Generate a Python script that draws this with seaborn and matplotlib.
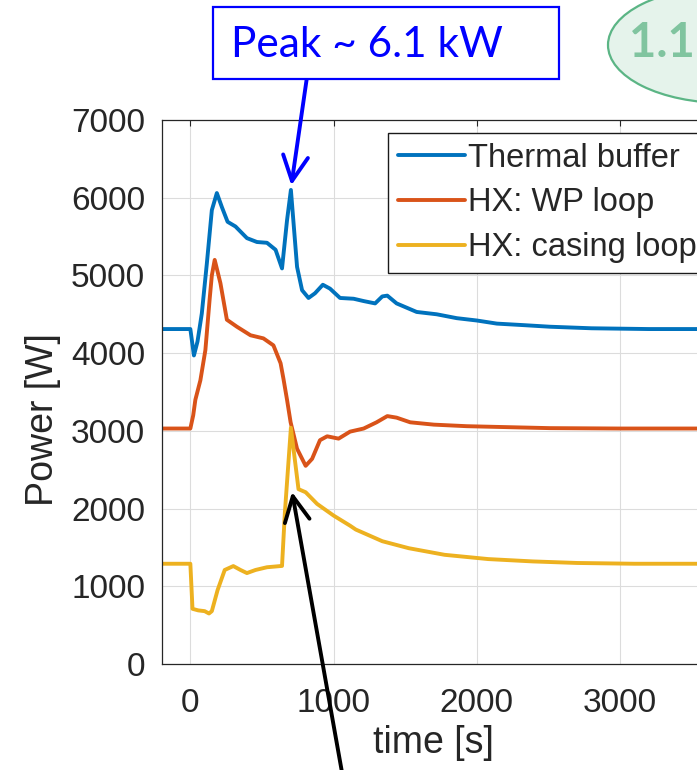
import numpy as np
import pandas as pd
import matplotlib
matplotlib.use("Agg")
import matplotlib.pyplot as plt
import seaborn as sns
from matplotlib.patches import Rectangle, Ellipse

# Power traces during the transient [time in s, power in W]
t_buffer = [-200, 0, 25, 50, 80, 115, 150, 185, 220, 260, 315, 395, 465, 535, 595, 640,
            675, 702, 745, 780, 825, 870, 925, 975, 1045, 1140, 1210, 1290, 1340, 1375,
            1440, 1580, 1720, 1860, 2000, 2140, 2330, 2510, 2800, 3200, 3600]
p_buffer = [4310, 4310, 3970, 4150, 4510, 5150, 5840, 6060, 5880, 5690, 5630, 5480, 5430, 5420, 5330, 5090,
            5710, 6100, 5110, 4810, 4710, 4770, 4880, 4830, 4710, 4700, 4670, 4640, 4730, 4740,
            4640, 4530, 4500, 4450, 4420, 4380, 4360, 4340, 4320, 4310, 4310]

t_wp = [-200, 0, 20, 35, 70, 105, 135, 150, 170, 190, 210, 255, 325, 420, 510, 580, 630, 650,
        675, 700, 745, 805, 850, 905, 955, 1035, 1115, 1210, 1300, 1375, 1440, 1535, 1700,
        1930, 2160, 2510, 3000, 3600]
p_wp = [3030, 3030, 3200, 3400, 3650, 4040, 4700, 5000, 5200, 5050, 4900, 4430, 4340, 4230, 4190, 4100, 3870, 3670,
        3400, 3110, 2770, 2550, 2640, 2880, 2930, 2900, 2990, 3030, 3110, 3190, 3170, 3110, 3080,
        3060, 3050, 3035, 3030, 3030]

t_casing = [-200, 0, 15, 55, 100, 130, 150, 190, 240, 300, 350, 395, 455, 535, 640, 660, 702,
            755, 805, 885, 1000, 1115, 1155, 1340, 1525, 1775, 2080, 2390, 2700, 3100, 3600]
p_casing = [1290, 1290, 710, 690, 680, 650, 680, 950, 1210, 1260, 1210, 1170, 1210, 1245, 1262, 1950, 3040,
            2250, 2210, 2060, 1910, 1780, 1730, 1580, 1490, 1405, 1350, 1320, 1300, 1290, 1290]

series_names = ["Thermal buffer", "HX: WP loop", "HX: casing loop"]
series_colors = ["#0072BD", "#D95319", "#EDB120"]

x_ticks = [0, 1000, 2000, 3000]
y_ticks = [0, 1000, 2000, 3000, 4000, 5000, 6000, 7000]

peak_label = "Peak ~ 6.1 kW"
badge_label = "1.1 kW"

df = pd.concat([
    pd.DataFrame({"time": t_buffer, "power": p_buffer, "series": series_names[0]}),
    pd.DataFrame({"time": t_wp, "power": p_wp, "series": series_names[1]}),
    pd.DataFrame({"time": t_casing, "power": p_casing, "series": series_names[2]}),
], ignore_index=True)

sns.set_style("white")
plt.rcParams["font.family"] = ["Liberation Sans", "DejaVu Sans"]

W, H = 697, 770
fig = plt.figure(figsize=(W / 100, H / 100), dpi=100)
ax = fig.add_axes([161.7 / W, 1 - 664 / H, (706 - 161.7) / W, (664 - 120) / H])

sns.lineplot(data=df, x="time", y="power", hue="series", hue_order=series_names,
             palette=series_colors, estimator=None, sort=False, linewidth=2.8, ax=ax)

ax.set_xlim(-200, 3600)
ax.set_ylim(0, 7000)
ax.set_xticks(x_ticks)
ax.set_yticks(y_ticks)
ax.grid(True, color="#dcdcdc", linewidth=0.8)
for s in ax.spines.values():
    s.set_color("#262626")
    s.set_linewidth(0.9)
ax.tick_params(direction="in", length=4, width=0.8, colors="#262626",
               top=True, right=True, labelsize=24, labelcolor="#262626")
ax.tick_params(axis="x", pad=17)
ax.tick_params(axis="y", pad=12)
ax.set_xlabel("time [s]", fontsize=27, color="#262626")
ax.set_ylabel("Power [W]", fontsize=27, color="#262626")
ax.xaxis.set_label_coords(0.5, -0.112)
ax.yaxis.set_label_coords(-0.185, 0.45)

leg = ax.legend(loc="upper left", bbox_to_anchor=(388 / W, 1 - 133 / H),
                bbox_transform=fig.transFigure, borderaxespad=0, fontsize=23.5,
                handlelength=2.05, handletextpad=0.1, labelspacing=0.42,
                borderpad=0.3, fancybox=False, framealpha=1, edgecolor="#1a1a1a")
leg.get_frame().set_linewidth(1.0)
for line in leg.get_lines():
    line.set_linewidth(2.8)

# callout box for the buffer peak
fig.patches.append(Rectangle((213 / W, 1 - 79 / H), (559 - 213) / W, (79 - 7) / H,
                             transform=fig.transFigure, facecolor="white",
                             edgecolor="#0000ff", linewidth=1.6))
fig.text(367 / W, 1 - 57 / H, peak_label, color="#0000ff", fontsize=30.5,
         family=["Lato", "DejaVu Sans"], ha="center", va="baseline")
ax.annotate("", xy=(705, 6160), xycoords="data",
            xytext=(306.7 / W, 1 - 79 / H), textcoords="figure fraction",
            arrowprops=dict(arrowstyle="->,head_length=0.9,head_width=0.45",
                            color="#0000ff", lw=2.8, shrinkA=0, shrinkB=0,
                            mutation_scale=20),
            annotation_clip=False)

# arrow pointing at the casing-loop spike
ax.annotate("", xy=(710, 2213), xycoords="data",
            xytext=(343 / W, 1 - 778 / H), textcoords="figure fraction",
            arrowprops=dict(arrowstyle="->,head_length=0.9,head_width=0.45",
                            color="black", lw=2.8, shrinkA=0, shrinkB=0,
                            mutation_scale=20),
            annotation_clip=False)

# green badge in the corner
fig.patches.append(Ellipse((725 / W, 1 - 45 / H), 234 / W, 116 / H,
                           transform=fig.transFigure, facecolor="#e5f3eb",
                           edgecolor="#5bb585", linewidth=1.6))
fig.text(629 / W, 1 - 57 / H, badge_label, color="#80c49f", fontsize=34,
         fontweight="bold", family=["Lato", "DejaVu Sans"], ha="left", va="baseline")

fig.savefig("out.png", dpi=100)
